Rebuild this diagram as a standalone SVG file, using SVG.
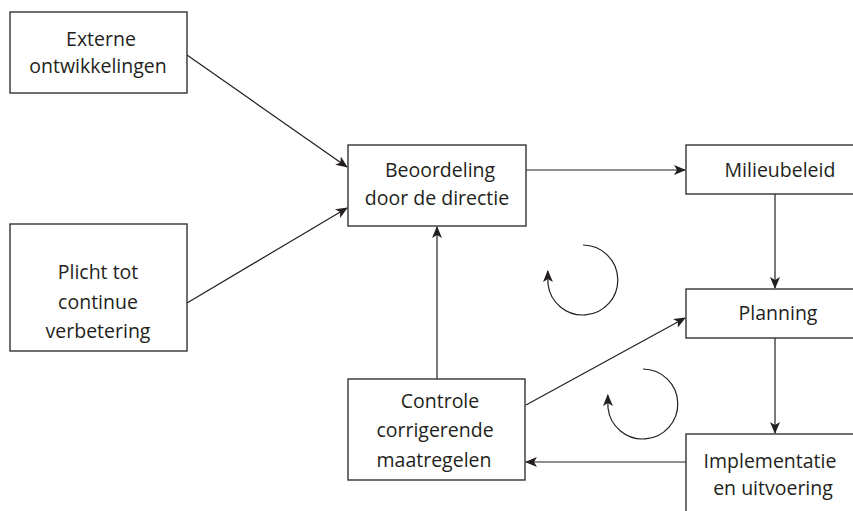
<svg xmlns="http://www.w3.org/2000/svg" width="853" height="511" viewBox="0 0 853 511">
  <style>
    .box { fill: #fff; stroke: #333; stroke-width: 1.4; }
    .lbl { font-family: "Open Sans", "DejaVu Sans", sans-serif; font-size: 19.5px; fill: #231f20; text-anchor: middle; }
    .edge { fill: none; stroke: #231f20; stroke-width: 1.2; marker-end: url(#arrow); }
  </style>
  <defs>
    <marker id="arrow" viewBox="0 0 12 10" refX="11" refY="5" markerWidth="12" markerHeight="10" markerUnits="userSpaceOnUse" orient="auto">
      <path d="M0,0 L12,5 L0,10 L3,5 Z" fill="#231f20"/>
    </marker>
  </defs>
  <rect width="853" height="511" fill="#fff"/>

  <g id="connectors">
    <line class="edge" x1="187" y1="55" x2="347" y2="167"/>
    <line class="edge" x1="187" y1="303" x2="347" y2="208"/>
    <line class="edge" x1="526" y1="170" x2="685" y2="170"/>
    <line class="edge" x1="775" y1="194" x2="775" y2="288"/>
    <line class="edge" x1="775" y1="338" x2="775" y2="433"/>
    <line class="edge" x1="686" y1="462" x2="526" y2="462"/>
    <line class="edge" x1="437" y1="379" x2="437" y2="227"/>
    <line class="edge" x1="526" y1="405" x2="685" y2="318"/>
    <!-- cycle arrows -->
    <path class="edge" d="M583,245 A35,35 0 1 1 548,284 L547.8,271"/>
    <path class="edge" d="M643,369 A35,35 0 1 1 608,408 L607.8,395"/>
  </g>

  <g id="externe">
    <rect class="box" x="10" y="12" width="177" height="81"/>
    <text class="lbl" x="101" y="46">Externe</text>
    <text class="lbl" x="98" y="73">ontwikkelingen</text>
  </g>

  <g id="plicht">
    <rect class="box" x="10" y="224" width="177" height="127"/>
    <text class="lbl" x="98" y="279">Plicht tot</text>
    <text class="lbl" x="98" y="309">continue</text>
    <text class="lbl" x="98" y="338">verbetering</text>
  </g>

  <g id="beoordeling">
    <rect class="box" x="348" y="145" width="178" height="81"/>
    <text class="lbl" x="440" y="177">Beoordeling</text>
    <text class="lbl" x="437" y="205">door de directie</text>
  </g>

  <g id="milieubeleid">
    <rect class="box" x="686" y="145" width="170" height="49"/>
    <text class="lbl" x="780" y="177">Milieubeleid</text>
  </g>

  <g id="planning">
    <rect class="box" x="686" y="289" width="170" height="49"/>
    <text class="lbl" x="778" y="320">Planning</text>
  </g>

  <g id="implementatie">
    <rect class="box" x="686" y="434" width="170" height="90"/>
    <text class="lbl" x="770" y="468">Implementatie</text>
    <text class="lbl" x="773" y="495">en uitvoering</text>
  </g>

  <g id="controle">
    <rect class="box" x="348" y="379" width="177" height="101"/>
    <text class="lbl" x="440" y="408">Controle</text>
    <text class="lbl" x="435" y="437">corrigerende</text>
    <text class="lbl" x="434" y="467">maatregelen</text>
  </g>
</svg>
